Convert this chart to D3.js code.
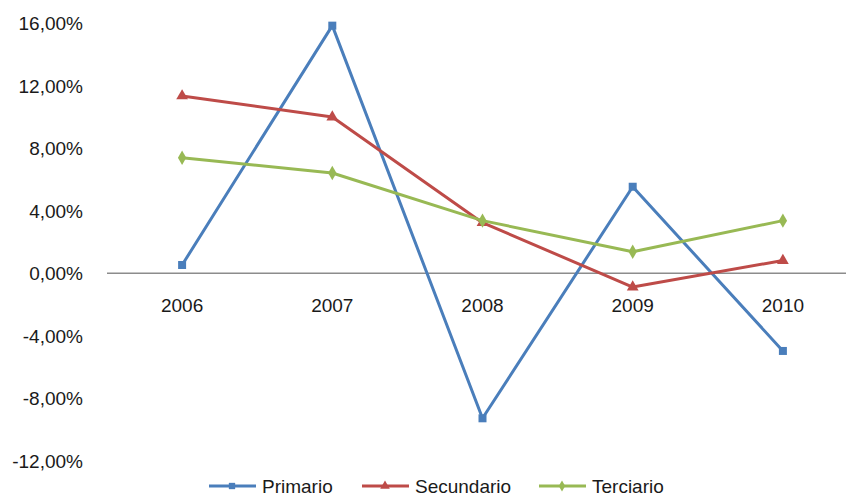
<!DOCTYPE html>
<html>
<head>
<meta charset="utf-8">
<script src="https://cdn.jsdelivr.net/npm/d3@7/dist/d3.min.js"></script>
<style>
  body { margin: 0; background: #fff; }
  text { font-family: "Liberation Sans", Arial, sans-serif; fill: #1a1a1a; }
</style>
</head>
<body>
<svg id="chart" width="846" height="497"></svg>
<script>
(function() {

    // data (growth rates)
    var years = ["2006", "2007", "2008", "2009", "2010"];
    var primario   = [0.0053, 0.1585, -0.0928, 0.0554, -0.0497];
    var secundario = [0.1135, 0.1000, 0.0324, -0.0088, 0.0082];
    var terciario  = [0.0740, 0.0642, 0.0337, 0.0138, 0.0337];
    var yTicks = [-0.12, -0.08, -0.04, 0, 0.04, 0.08, 0.12, 0.16];

    var series = [
        { name: "Primario",   values: primario,   color: "#4a7ebb", shape: d3.symbolSquare,   size: 64,  legendSize: 40 },
        { name: "Secundario", values: secundario, color: "#be4b48", shape: d3.symbolTriangle, size: 60,  legendSize: 40 },
        { name: "Terciario",  values: terciario,  color: "#98b954", shape: d3.symbolDiamond,  size: 60,  legendSize: 36 }
    ];

    var svg = d3.select("#chart");

    var x = d3.scalePoint()
        .domain(years)
        .range([107, 858])
        .padding(0.5);

    var y = d3.scaleLinear()
        .domain([-0.12, 0.16])
        .range([460.8, 23.3]);

    var fmt = function(v) {
        return (v * 100).toFixed(2).replace(".", ",") + "%";
    };

    /* y tick labels, no axis line */
    svg.append("g").selectAll("text")
        .data(yTicks)
        .enter().append("text")
        .attr("x", 83)
        .attr("y", function(d) { return y(d); })
        .attr("dy", "0.36em")
        .attr("text-anchor", "end")
        .style("font-size", "19px")
        .text(fmt);

    /* category axis sits on zero */
    svg.append("line")
        .attr("x1", 107).attr("x2", 846)
        .attr("y1", y(0)).attr("y2", y(0))
        .style("stroke", "#8c8c8c")
        .style("stroke-width", 1.5);

    svg.append("g").selectAll("text")
        .data(years)
        .enter().append("text")
        .attr("x", function(d) { return x(d); })
        .attr("y", 312)
        .attr("text-anchor", "middle")
        .style("font-size", "19px")
        .text(function(d) { return d; });

    var line = d3.line()
        .x(function(d, i) { return x(years[i]); })
        .y(function(d) { return y(d); });

    series.forEach(function(s) {
        var g = svg.append("g");
        g.append("path")
            .datum(s.values)
            .attr("d", line)
            .style("fill", "none")
            .style("stroke", s.color)
            .style("stroke-width", 3)
            .style("stroke-linejoin", "round");

        g.selectAll("path.marker")
            .data(s.values)
            .enter().append("path")
            .attr("class", "marker")
            .attr("d", d3.symbol().type(s.shape).size(s.size))
            .attr("transform", function(d, i) {
                return "translate(" + x(years[i]) + "," + y(d) + ")";
            })
            .style("fill", s.color);
    });

    // legend
    var legendX = [209, 362, 539];
    var legendY = 486;
    var legend = svg.append("g").selectAll("g")
        .data(series)
        .enter().append("g")
        .attr("transform", function(d, i) { return "translate(" + legendX[i] + "," + legendY + ")"; });

    legend.append("line")
        .attr("x1", 0).attr("x2", 47)
        .attr("y1", 0).attr("y2", 0)
        .style("stroke", function(d) { return d.color; })
        .style("stroke-width", 3);

    legend.append("path")
        .attr("d", function(d) { return d3.symbol().type(d.shape).size(d.legendSize)(); })
        .attr("transform", "translate(23,0)")
        .style("fill", function(d) { return d.color; });

    legend.append("text")
        .attr("x", 53)
        .attr("y", 6.5)
        .style("font-size", "19px")
        .text(function(d) { return d.name; });

})();
</script>
</body>
</html>
